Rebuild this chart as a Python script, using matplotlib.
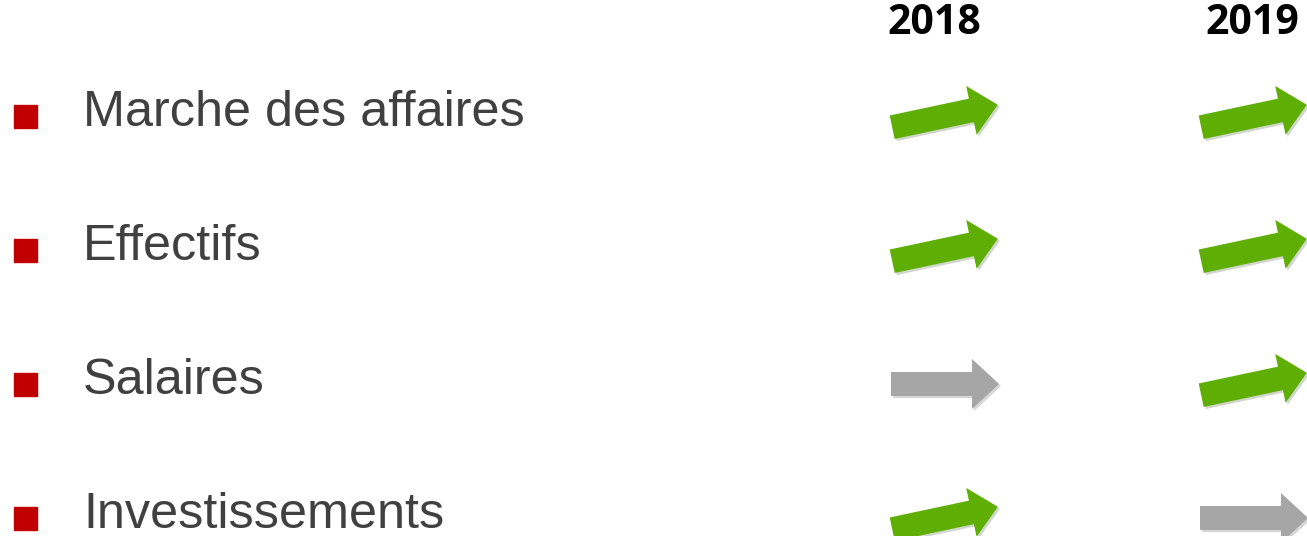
import matplotlib.pyplot as plt
from matplotlib.patches import FancyArrow, Rectangle
import matplotlib.patheffects as pe
import numpy as np

# Data
categories = ['Marche des affaires', 'Effectifs', 'Salaires', 'Investissements']
years = ['2018', '2019']
trend_2018 = ['up', 'up', 'flat', 'up']
trend_2019 = ['up', 'up', 'up', 'flat']

colors = {'up': '#5FAE03', 'flat': '#A6A6A6'}
angles = {'up': 12, 'flat': 0}

W, H = 1307, 536
fig = plt.figure(figsize=(W / 100, H / 100), dpi=100)
ax = fig.add_axes([0, 0, 1, 1])
ax.set_xlim(0, W)
ax.set_ylim(H, 0)
ax.axis('off')

row_y0, row_step = 116, 134
col_x = [945, 1254]
header_x = [934, 1252]
arrow_len = 108
shadow = [pe.SimplePatchShadow(offset=(1.5, -1.5), alpha=0.2), pe.Normal()]

for i, name in enumerate(categories):
    y = row_y0 + i * row_step
    ax.add_patch(Rectangle((14, y - 11.5), 23, 23, color='#C00000'))
    ax.text(83, y - 3, name, fontsize=36.3, color='#404040',
            family='Liberation Sans', va='center', ha='left')

    for j, trend in enumerate([trend_2018[i], trend_2019[i]]):
        a = np.deg2rad(angles[trend])
        dx, dy = arrow_len * np.cos(a), -arrow_len * np.sin(a)
        x0, y0 = col_x[j] - dx / 2, y - dy / 2
        arr = FancyArrow(x0, y0, dx, dy, width=24, head_width=50, head_length=27,
                         length_includes_head=True, color=colors[trend], lw=0)
        arr.set_path_effects(shadow)
        ax.add_patch(arr)

for j, yr in enumerate(years):
    ax.text(header_x[j], 23, yr, fontsize=29.5, fontweight='bold', color='black',
            family='Open Sans', ha='center', va='center')

fig.savefig('out.png', dpi=100)
